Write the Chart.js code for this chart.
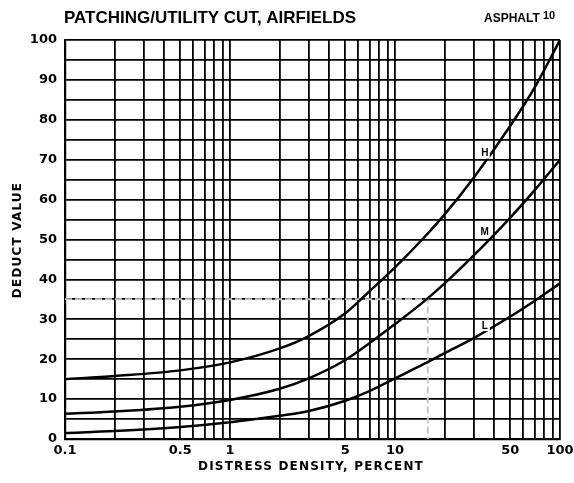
<!DOCTYPE html>
<html>
<head>
<meta charset="utf-8">
<script src="https://cdn.jsdelivr.net/npm/chart.js@4"></script>
<style>
	html, body { margin: 0; padding: 0; background: #fff; }
	#wrap { width: 574px; height: 483px; }
</style>
</head>
<body>
<div id="wrap"><canvas id="chart" width="574" height="483"></canvas></div>
<script>
// distress density (percent) where the curves were read
var density = [0.1, 0.2, 0.5, 1, 2, 3, 5, 7, 10, 15, 20, 30, 50, 70, 100];

// deduct values
var highSeverity   = [15, 15.8, 17.2, 19.2, 22.7, 25.8, 31.5, 37, 43, 50.5, 56.3, 65.5, 78.5, 88, 100];
var mediumSeverity = [6.3, 6.9, 8.1, 9.8, 12.6, 15.2, 19.8, 24, 28.8, 34.5, 39, 46, 55.5, 62.3, 70];
var lowSeverity    = [1.5, 2, 3, 4.2, 5.8, 7, 9.6, 12, 15.2, 18.8, 21.5, 25.3, 30.7, 34.6, 39];

// example reading drawn dashed
var exampleDensity = 15.8;
var exampleDeduct = 35;

var xLabelTicks = [0.1, 0.5, 1, 5, 10, 50, 100];
var curveNames = ['H', 'M', 'L'];
var curveNameAt = [[35, 71.5], [35, 51.7], [35, 28.3]];

const font = "'Liberation Sans', Arial, sans-serif";
const dvFont = "'DejaVu Sans', sans-serif";

function toPoints(xs, ys) {
	return xs.map(function(x, i) { return { x: x, y: ys[i] }; });
}

function curve(label, ys) {
	return {
		label: label,
		data: toPoints(density, ys),
		borderColor: '#000',
		borderWidth: 2.5,
		pointRadius: 0,
		fill: false,
		cubicInterpolationMode: 'monotone'
	};
}

// plugin for the titles, curve letters and the dashed example reading
const extras = {
	id: 'extras',
	beforeDatasetsDraw: function(chart) {
		const ctx = chart.ctx, xs = chart.scales.x, ys = chart.scales.y;
		ctx.save();
		ctx.strokeStyle = '#c8c8c8';
		ctx.lineWidth = 2;
		ctx.setLineDash([7, 3]);
		ctx.beginPath();
		ctx.moveTo(xs.left, ys.getPixelForValue(exampleDeduct));
		ctx.lineTo(xs.getPixelForValue(exampleDensity), ys.getPixelForValue(exampleDeduct));
		ctx.lineTo(xs.getPixelForValue(exampleDensity), ys.bottom);
		ctx.stroke();
		ctx.restore();
	},
	afterDraw: function(chart) {
		const ctx = chart.ctx, xs = chart.scales.x, ys = chart.scales.y;
		ctx.save();
		ctx.fillStyle = '#000';
		ctx.textBaseline = 'middle';

		ctx.font = 'bold 17px ' + font;
		ctx.textAlign = 'center';
		ctx.fillText('PATCHING/UTILITY CUT, AIRFIELDS', 210, 18);

		ctx.font = 'bold 12px ' + font;
		ctx.textAlign = 'left';
		ctx.fillText('ASPHALT', 484, 19);
		ctx.font = 'bold 11px ' + font;
		ctx.fillText('10', 543, 16);

		// curve letters
		ctx.font = 'bold 10px ' + font;
		ctx.textAlign = 'center';
		for (let i = 0; i < curveNames.length; i++) {
			ctx.fillStyle = '#fff';
			let px = xs.getPixelForValue(curveNameAt[i][0]);
			let py = ys.getPixelForValue(curveNameAt[i][1]);
			ctx.fillRect(px - 5, py - 5, 10, 10);
			ctx.fillStyle = '#000';
			ctx.fillText(curveNames[i], px, py);
		}

		// axis titles
		ctx.font = 'bold 12px ' + dvFont;
		ctx.letterSpacing = '1.2px';
		ctx.fillText('DISTRESS DENSITY, PERCENT', 311, 467);
		ctx.translate(18, 240);
		ctx.rotate(-Math.PI / 2);
		ctx.fillText('DEDUCT VALUE', 0, 0);
		ctx.restore();
	}
};

new Chart(document.getElementById('chart'), {
	type: 'line',
	data: {
		datasets: [
			curve('H', highSeverity),
			curve('M', mediumSeverity),
			curve('L', lowSeverity)
		]
	},
	options: {
		responsive: false,
		animation: false,
		layout: { padding: { left: 0, right: 14, top: 40, bottom: 0 } },
		plugins: {
			legend: { display: false },
			tooltip: { enabled: false }
		},
		scales: {
			x: {
				type: 'logarithmic',
				min: 0.1,
				max: 100,
				afterBuildTicks: function(scale) {
					let t = [];
					for (let d = 0.1; d < 99; d *= 10)
						for (let m = 1; m < 10; m++)
							t.push({ value: +(m * d).toPrecision(3) });
					t.push({ value: 100 });
					scale.ticks = t;
				},
				afterFit: function(scale) {
					scale.height = 44;
					scale.paddingLeft = 0;
					scale.paddingRight = 0;
				},
				grid: { color: '#000', lineWidth: 1.8, drawTicks: false },
				border: { color: '#000', width: 2.2 },
				ticks: {
					autoSkip: false,
					maxRotation: 0,
					padding: 4,
					color: '#000',
					font: { family: dvFont, size: 13, weight: 'bold' },
					callback: function(v) {
						return xLabelTicks.indexOf(+(+v).toPrecision(3)) >= 0 ? String(+(+v).toPrecision(3)) : '';
					}
				}
			},
			y: {
				min: 0,
				max: 100,
				afterFit: function(scale) { scale.width = 65; },
				grid: { color: '#000', lineWidth: 1.8, drawTicks: false },
				border: { color: '#000', width: 2.2 },
				ticks: {
					stepSize: 5,
					padding: 8,
					color: '#000',
					font: { family: dvFont, size: 13, weight: 'bold' },
					callback: function(v) { return v % 10 === 0 ? v : ''; }
				}
			}
		}
	},
	plugins: [extras]
});
</script>
</body>
</html>
